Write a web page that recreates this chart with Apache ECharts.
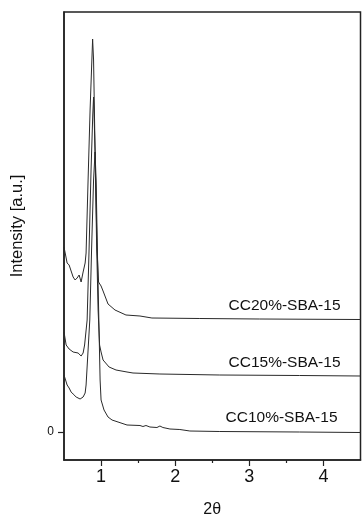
<!DOCTYPE html>
<html>
<head>
<meta charset="utf-8">
<script src="https://cdn.jsdelivr.net/npm/echarts@6/dist/echarts.min.js"></script>
<style>
html,body{margin:0;padding:0;background:#fff;}
#chart{width:362px;height:517px;}
</style>
</head>
<body>
<div id="chart"></div>
<script>
// 2-theta values and intensities (arbitrary units, curves offset vertically)
const theta20 = [0.50,0.542,0.569,0.623,0.650,0.677,0.704,0.731,0.758,0.785,0.798,0.825,0.852,0.886,0.899,0.919,0.946,0.966,1.000,1.027,1.094,1.188,1.336,1.525,1.686,2.332,3.14,4.5];
const int20   = [1850,1690,1670,1550,1520,1540,1570,1500,1600,1690,1790,2520,3220,3930,3720,2820,1820,1500,1460,1410,1280,1220,1170,1160,1140,1135,1130,1125];

const theta15 = [0.50,0.529,0.569,0.623,0.690,0.731,0.758,0.778,0.812,0.838,0.865,0.888,0.899,0.919,0.939,0.960,0.980,1.000,1.027,1.108,1.202,1.350,1.431,1.794,2.602,3.678,4.5];
const int15   = [1000,870,830,800,790,760,790,870,1120,1820,2620,3170,3350,2820,1920,1220,870,800,720,650,620,600,590,580,570,565,560];

const theta10 = [0.50,0.542,0.569,0.596,0.623,0.637,0.664,0.690,0.717,0.758,0.785,0.798,0.825,0.848,0.872,0.899,0.919,0.933,0.953,0.973,0.987,1.000,1.040,1.094,1.148,1.229,1.350,1.525,1.565,1.606,1.659,1.754,1.794,1.834,1.929,2.063,2.198,2.602,3.678,4.5];
const int10   = [570,470,440,400,380,400,350,360,330,350,390,470,820,1120,1820,2520,2800,2520,1720,1020,520,320,220,150,120,100,70,65,55,65,50,45,60,45,30,25,10,5,0,-5];

const seriesNames = ['CC20%-SBA-15','CC15%-SBA-15','CC10%-SBA-15'];
const xMajorTicks = [1,2,3,4];
const xMinorTicks = [1.5,2.5,3.5];
const yTicks = [0];

function pairs(xs, ys){ return xs.map((x,i)=>[x, ys[i]]); }

const chart = echarts.init(document.getElementById('chart'), null, {renderer:'canvas'});
const font = 'Liberation Sans, Arial, Helvetica, sans-serif';
const lineColor = '#2a2a2a';

function mkSeries(name, data, offX, offY){
  return {
    name: name, type:'line', data: data, xAxisIndex:0,
    showSymbol:false, symbol:'none', smooth:false, animation:false,
    lineStyle:{color:lineColor, width:1},
    endLabel:{show:true, formatter: name, align:'right', distance:0,
      offset:[offX, offY], color:'#111', fontSize:15.5, fontFamily:font}
  };
}

chart.setOption({
  animation:false,
  backgroundColor:'#fff',
  grid:{left:64, top:12, right:1.5, bottom:57, containLabel:false, outerBoundsMode:'none',
        show:true, borderColor:'#222', borderWidth:1.5, backgroundColor:'transparent'},
  xAxis:[{
    type:'value', min:0.5, max:4.5, position:'bottom',
    name:'2θ', nameLocation:'middle', nameGap:42,
    nameTextStyle:{fontSize:16, color:'#111', fontFamily:font},
    axisLine:{show:true, onZero:false, lineStyle:{color:'#222', width:1.5}},
    axisTick:{show:true, customValues:xMajorTicks, length:6, inside:false, lineStyle:{color:'#222', width:1.2}},
    axisLabel:{show:true, customValues:xMajorTicks, margin:8, fontSize:18, color:'#111', fontFamily:font},
    splitLine:{show:false}
  },{
    type:'value', min:0.5, max:4.5, position:'bottom', gridIndex:0,
    axisLine:{show:false, onZero:false},
    axisTick:{show:true, customValues:xMinorTicks, length:3, inside:false, lineStyle:{color:'#222', width:1.2}},
    axisLabel:{show:false},
    splitLine:{show:false}
  }],
  yAxis:{
    type:'value', min:-280, max:4200,
    name:'Intensity [a.u.]', nameLocation:'middle', nameGap:38, nameRotate:90,
    nameTextStyle:{fontSize:16.5, color:'#111', fontFamily:font, padding:[0,0,0,20]},
    axisLine:{show:true, onZero:false, lineStyle:{color:'#222', width:1.5}},
    axisTick:{show:true, customValues:yTicks, length:6, lineStyle:{color:'#222', width:1.2}},
    axisLabel:{show:true, customValues:yTicks, margin:10, fontSize:12, color:'#111', fontFamily:font},
    splitLine:{show:false}
  },
  series:[
    mkSeries(seriesNames[0], pairs(theta20,int20), -20, -14),
    mkSeries(seriesNames[1], pairs(theta15,int15), -20, -13),
    mkSeries(seriesNames[2], pairs(theta10,int10), -23, -15)
  ]
});
</script>
</body>
</html>
